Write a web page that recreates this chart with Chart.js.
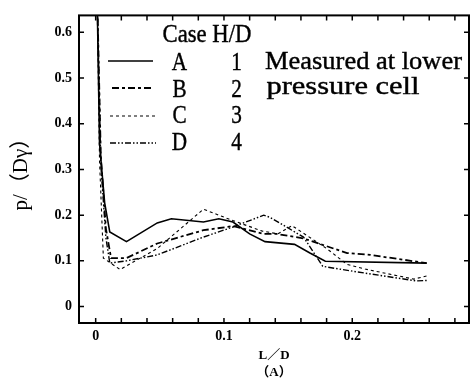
<!DOCTYPE html>
<html>
<head>
<meta charset="utf-8">
<script src="https://cdn.jsdelivr.net/npm/chart.js@4/dist/chart.umd.min.js"></script>
<style>
  body { margin: 0; background: #fff; }
</style>
</head>
<body>
<canvas id="pressure-cell" width="470" height="383"></canvas>
<script>
/** PRESSURE AT LOWER CELL  p/(D gamma) vs L/D **/

var cases = ["A", "B", "C", "D"];
var hdRatios = ["1", "2", "3", "4"];

var xA = [0.001, 0.003, 0.007, 0.011, 0.024, 0.048, 0.059, 0.084, 0.096, 0.107, 0.120, 0.132, 0.155, 0.167, 0.179, 0.258];
var yA = [0.70, 0.356, 0.227, 0.163, 0.142, 0.183, 0.192, 0.185, 0.192, 0.185, 0.159, 0.142, 0.136, 0.117, 0.099, 0.095];

var xB = [0.001, 0.004, 0.008, 0.012, 0.024, 0.048, 0.084, 0.107, 0.131, 0.141, 0.162, 0.196, 0.214, 0.258];
var yB = [0.70, 0.33, 0.17, 0.106, 0.106, 0.138, 0.167, 0.176, 0.159, 0.159, 0.149, 0.117, 0.113, 0.095];

var xC = [0.001, 0.003, 0.006, 0.019, 0.048, 0.084, 0.107, 0.130, 0.142, 0.153, 0.180, 0.196, 0.210, 0.248, 0.258];
var yC = [0.70, 0.32, 0.106, 0.081, 0.127, 0.213, 0.188, 0.165, 0.159, 0.177, 0.127, 0.092, 0.082, 0.060, 0.067];

var xD = [0.001, 0.004, 0.008, 0.011, 0.024, 0.048, 0.084, 0.107, 0.131, 0.136, 0.162, 0.177, 0.201, 0.250, 0.258];
var yD = [0.70, 0.31, 0.15, 0.095, 0.100, 0.113, 0.152, 0.174, 0.200, 0.195, 0.152, 0.088, 0.077, 0.056, 0.057];

var yTicks = [0, 0.1, 0.2, 0.3, 0.4, 0.5, 0.6];
var yTickLabels = ["0", "0.1", "0.2", "0.3", "0.4", "0.5", "0.6"];
var xTicks = [0, 0.1, 0.2];
var xTickLabels = ["0", "0.1", "0.2"];
var xMarks = [0, 0.02, 0.04, 0.06, 0.08, 0.1, 0.12, 0.14, 0.16, 0.18, 0.2, 0.22, 0.24, 0.26, 0.28];

function points(xs, ys) {
    return xs.map(function (x, i) { return { x: x, y: ys[i] }; });
}

var serif = "'Liberation Serif', 'Noto Sans CJK JP', serif";

// inward ticks, box frame and the hand-drawn key
var frame = {
    id: 'frame',
    afterDraw: function (chart) {
        var ctx = chart.ctx;
        var a = chart.chartArea;
        var sx = chart.scales.x, sy = chart.scales.y;
        ctx.save();
        ctx.strokeStyle = '#000';
        ctx.lineWidth = 2;
        ctx.setLineDash([]);
        ctx.strokeRect(a.left, a.top, a.right - a.left, a.bottom - a.top);

        ctx.lineWidth = 1.5;
        ctx.beginPath();
        xMarks.forEach(function (v) {
            var px = sx.getPixelForValue(v);
            ctx.moveTo(px, a.bottom); ctx.lineTo(px, a.bottom - 5);
            ctx.moveTo(px, a.top); ctx.lineTo(px, a.top + 5);
        });
        yTicks.forEach(function (v) {
            var py = sy.getPixelForValue(v);
            ctx.moveTo(a.left, py); ctx.lineTo(a.left + 5, py);
            ctx.moveTo(a.right, py); ctx.lineTo(a.right - 5, py);
        });
        ctx.stroke();

        // key text: tall narrow serif, squeezed to the width seen in the figure
        ctx.fillStyle = '#000';
        ctx.font = '25px ' + serif;
        function fit(text, x, y, w, align) {
            var nat = ctx.measureText(text).width;
            var k = w ? w / nat : 0.85;
            ctx.save();
            ctx.translate(x, y);
            ctx.scale(k, 1);
            ctx.textAlign = align;
            ctx.textBaseline = 'alphabetic';
            ctx.fillText(text, 0, 0);
            ctx.lineWidth = 0.4;
            ctx.strokeText(text, 0, 0);
            ctx.restore();
        }
        fit("Case H/D", 162.5, 42, 89, 'left');
        var rows = [70, 96.5, 123, 150];
        var sample = [[108, 153, 61], [112, 154, 88], [110, 155, 116], [110, 156, 143]];
        chart.data.datasets.forEach(function (ds, i) {
            fit(cases[i], 179.5, rows[i], 0, 'center');
            fit(hdRatios[i], 236.5, rows[i], 0, 'center');
            ctx.save();
            ctx.lineWidth = ds.borderWidth;
            ctx.setLineDash(ds.borderDash || []);
            ctx.beginPath();
            ctx.moveTo(sample[i][0], sample[i][2]);
            ctx.lineTo(sample[i][1], sample[i][2]);
            ctx.stroke();
            ctx.restore();
        });
        fit("Measured at lower", 265, 68.5, 197, 'left');
        fit("pressure cell", 266.5, 93.5, 153, 'left');
        ctx.restore();
    }
};

var chartEl = document.getElementById("pressure-cell");

var pressureChart = new Chart(chartEl, {
    type: 'line',
    data: {
        datasets: [{
            label: cases[0],
            data: points(xA, yA),
            borderColor: '#000',
            borderWidth: 1.6,
            borderDash: []
        }, {
            label: cases[1],
            data: points(xB, yB),
            borderColor: '#000',
            borderWidth: 1.8,
            borderDash: [7, 3, 3, 3]
        }, {
            label: cases[2],
            data: points(xC, yC),
            borderColor: '#000',
            borderWidth: 1.1,
            borderDash: [3, 3]
        }, {
            label: cases[3],
            data: points(xD, yD),
            borderColor: '#000',
            borderWidth: 1.4,
            borderDash: [6, 2, 1.5, 2, 1.5, 2]
        }]
    },
    options: {
        responsive: false,
        animation: false,
        elements: {
            point: { radius: 0 },
            line: { tension: 0, fill: false }
        },
        layout: { padding: { top: 9, right: 1, left: 0, bottom: 0 } },
        plugins: {
            legend: { display: false },
            tooltip: { enabled: false }
        },
        scales: {
            x: {
                type: 'linear',
                min: -0.013,
                max: 0.291,
                grid: { display: false, drawTicks: false },
                border: { display: false },
                afterBuildTicks: function (s) { s.ticks = xTicks.map(function (v) { return { value: v }; }); },
                afterFit: function (s) { s.height = 60; },
                ticks: {
                    padding: 5,
                    color: '#000',
                    font: { family: serif, size: 14, weight: 'bold' },
                    callback: function (v, i) { return xTickLabels[i]; }
                },
                title: {
                    display: true,
                    text: ["L／D", "（A）"],
                    color: '#000',
                    font: { family: serif, size: 13, weight: 'bold', lineHeight: 1.3 },
                    padding: { top: 0, bottom: 2 }
                }
            },
            y: {
                min: -0.036,
                max: 0.637,
                grid: { display: false, drawTicks: false },
                border: { display: false },
                afterBuildTicks: function (s) { s.ticks = yTicks.map(function (v) { return { value: v }; }); },
                afterFit: function (s) { s.width = 79; },
                ticks: {
                    padding: 7,
                    color: '#000',
                    font: { family: serif, size: 14, weight: 'bold' },
                    callback: function (v, i) { return yTickLabels[i]; }
                },
                title: {
                    display: true,
                    text: "p/（Dγ）",
                    color: '#000',
                    font: { family: serif, size: 21, lineHeight: 1.2 },
                    padding: { top: 9, bottom: 0 }
                }
            }
        }
    },
    plugins: [frame]
});
</script>
</body>
</html>
